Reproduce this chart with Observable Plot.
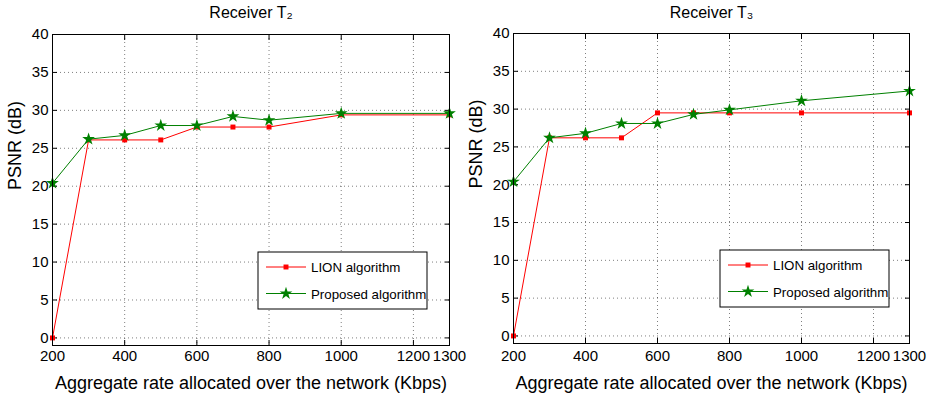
<!DOCTYPE html>
<html><head><meta charset="utf-8">
<script src="https://cdn.jsdelivr.net/npm/d3@7"></script>
<script src="https://cdn.jsdelivr.net/npm/@observablehq/plot@0.6"></script>
<style>
body{margin:0;background:#fff;font-family:"Liberation Sans",Arial,sans-serif}
#wrap{display:flex;width:934px;height:394px}
</style>
</head><body><div id="wrap"></div>
<script>
const rates = [200, 300, 400, 500, 600, 700, 800, 1000, 1300];
const lionT2 = [0, 26.1, 26.1, 26.1, 27.8, 27.8, 27.8, 29.4, 29.4];
const propT2 = [20.4, 26.2, 26.7, 28.0, 28.0, 29.2, 28.7, 29.6, 29.6];
const lionT3 = [0, 26.2, 26.2, 26.2, 29.5, 29.5, 29.5, 29.5, 29.5];
const propT3 = [20.4, 26.2, 26.8, 28.1, 28.1, 29.3, 29.9, 31.1, 32.4];
const xTicks = [200, 400, 600, 800, 1000, 1200, 1300];
const yTicks = [0, 5, 10, 15, 20, 25, 30, 35, 40];
const titles = ["Receiver T\u2082", "Receiver T\u2083"];
const seriesNames = ["LION algorithm", "Proposed algorithm"];
const xLabel = "Aggregate rate allocated over the network (Kbps)";
const yLabel = "PSNR (dB)";

const RED = "#ff0000", GREEN = "#008000";
const FONT = "'Liberation Sans', Arial, sans-serif";

function panel(title, lion, prop, m, legend) {
  const W = 467, H = 394;
  const svg = Plot.plot({
    width: W, height: H,
    marginLeft: m.l, marginRight: m.r, marginTop: m.t, marginBottom: m.b,
    x: {domain: [200, 1300]},
    y: {domain: [-1, 40]},
    style: {fontFamily: FONT, fontSize: "15px", color: "#000", background: "#fff", overflow: "visible"},
    marks: [
      Plot.gridX(xTicks, {stroke: "#000", strokeOpacity: 0.5, strokeDasharray: "1,3"}),
      Plot.gridY(yTicks, {stroke: "#000", strokeOpacity: 0.5, strokeDasharray: "1,3"}),
      Plot.axisX(xTicks, {anchor: "bottom", tickSize: -5, tickPadding: m.xpad, fontSize: 15,
        tickFormat: d => String(d), label: null}),
      Plot.axisX(xTicks, {anchor: "top", tickSize: -5, tickFormat: () => "", label: null}),
      Plot.axisY(yTicks, {anchor: "left", tickSize: -5, tickPadding: 9, fontSize: 15,
        tickFormat: d => String(d), label: null}),
      Plot.axisY(yTicks, {anchor: "right", tickSize: -5, tickFormat: () => "", label: null}),
      Plot.text([xLabel], {frameAnchor: "bottom", dy: m.xl, fontSize: 18, fill: "#000"}),
      Plot.text([yLabel], {frameAnchor: "left", rotate: -90, dx: -37, fontSize: 18, fill: "#000"}),
      Plot.line(rates, {x: rates, y: lion, stroke: RED, strokeWidth: 1}),
      Plot.line(rates, {x: rates, y: prop, stroke: GREEN, strokeWidth: 1}),
      Plot.dot(rates, {x: rates, y: lion, symbol: "square", fill: RED, stroke: "none", r: 2.8}),
      Plot.dot(rates, {x: rates, y: prop, symbol: "star", fill: GREEN, stroke: "none", r: 4}),
      Plot.frame({stroke: "#000", strokeWidth: 1}),
      Plot.text([title], {frameAnchor: "top", dy: m.td, fontSize: 16, fill: "#000"})
    ]
  });
  // legend box
  const s = d3.select(svg);
  const g = s.append("g").attr("font-family", FONT).attr("font-size", 13.3).attr("text-anchor", "start");
  g.append("rect").attr("x", legend.x).attr("y", legend.y).attr("width", 169).attr("height", 57)
    .attr("fill", "#fff").attr("stroke", "#000").attr("stroke-width", 1);
  const cols = [RED, GREEN];
  const syms = [d3.symbolSquare, d3.symbolStar];
  const sizes = [Math.PI * 2.8 * 2.8, Math.PI * 4 * 4];
  seriesNames.forEach((name, i) => {
    const yy = legend.y + 15 + i * 26.5;
    g.append("line").attr("x1", legend.x + 8).attr("x2", legend.x + 48).attr("y1", yy).attr("y2", yy)
      .attr("stroke", cols[i]).attr("stroke-width", 1);
    g.append("path").attr("d", d3.symbol(syms[i], sizes[i])()).attr("transform", `translate(${legend.x + 28},${yy})`)
      .attr("fill", cols[i]);
    g.append("text").attr("x", legend.x + 53).attr("y", yy + 5).text(name).attr("fill", "#000");
  });
  return svg;
}

const wrap = document.getElementById("wrap");
wrap.appendChild(panel(titles[0], lionT2, propT2, {l: 52, r: 18, t: 34, b: 49, xpad: 10, xl: 43, td: -28}, {x: 258, y: 252}));
wrap.appendChild(panel(titles[1], lionT3, propT3, {l: 46, r: 25, t: 33, b: 51, xpad: 12, xl: 45, td: -27}, {x: 253, y: 250}));
</script>
</body></html>
